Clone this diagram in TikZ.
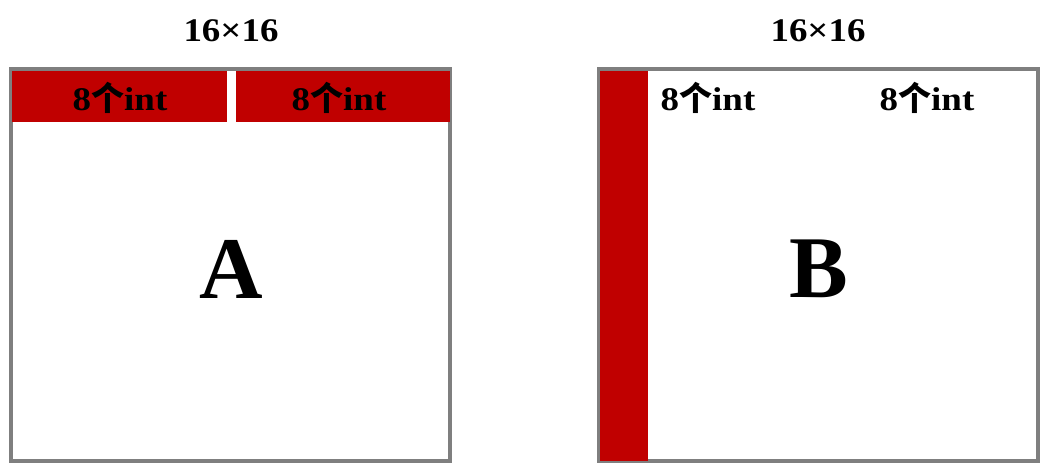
\documentclass[tikz,border=0pt]{standalone}
\usepackage{fontspec}
\setmainfont{Liberation Serif}
\newfontfamily\widefont[FakeStretch=1.12]{Liberation Serif}
\newfontfamily\cjkfont{Noto Sans CJK SC}
\usepackage{xcolor}
\definecolor{block-red}{HTML}{C00000}
\definecolor{frame-gray}{HTML}{7F7F7F}
\usepackage{tikz}

\tikzset{
    frame/.style={draw=frame-gray, line width=4pt},
    title/.style={font=\widefont\bfseries\fontsize{33}{33}\selectfont, inner sep=0pt},
    chunk/.style={font=\widefont\bfseries\fontsize{33}{33}\selectfont, inner sep=0pt},
    matname/.style={font=\bfseries\fontsize{88}{88}\selectfont, inner sep=0pt}
}

\newcommand{\eightint}{8{\cjkfont 个}int}

\begin{document}
\begin{tikzpicture}[x=1pt, y=-1pt]

    % Canvas
    \useasboundingbox[fill=white] (0, 0) rectangle (1051, 473);

    % Matrix A
    \draw[frame] (10.5, 69.5) rectangle (450, 461);
    \fill[block-red] (12, 71) rectangle (227, 122);
    \fill[block-red] (236, 71) rectangle (450, 122);
    \node[title] (titleA) at (231, 31) {16×16};
    \node[chunk] (rowA1) at (120, 98) {\eightint};
    \node[chunk] (rowA2) at (339, 98) {\eightint};
    \node[matname] (nameA) at (231, 269) {A};

    % Matrix B
    \draw[frame] (598.5, 69.5) rectangle (1038, 461);
    \fill[block-red] (600, 71) rectangle (648, 461);
    \node[title] (titleB) at (818, 31) {16×16};
    \node[chunk] (colB1) at (708, 98) {\eightint};
    \node[chunk] (colB2) at (927, 98) {\eightint};
    \node[matname] (nameB) at (819, 269) {B};

\end{tikzpicture}
\end{document}
